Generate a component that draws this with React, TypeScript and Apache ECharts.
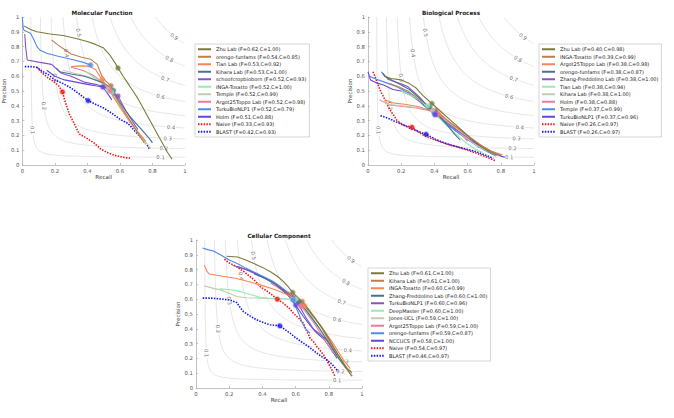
import React, { useEffect, useRef } from "react";
import * as echarts from "echarts";

type Pt = [number, number];

const FONT = "DejaVu Sans";

// Rank colours (1st..10th method), then the two baselines
const RANK_COLORS = [
  "#7a7a3c", "#c27c48", "#fb8550", "#3d7396", "#8953c4",
  "#8fefad", "#c8c8b4", "#f0789a", "#4f88ee", "#6246df",
];
const NAIVE_COLOR = "#f01818";
const BLAST_COLOR = "#1a1af0";

// F-measure contour levels and where their labels sit
const isoLevels = [0.1, 0.2, 0.3, 0.4, 0.5, 0.6, 0.7, 0.8, 0.9];
const isoRightLabelRecall: Pt[] = [
  [0.1, 0.85], [0.2, 0.87], [0.3, 0.894], [0.4, 0.914],
  [0.6, 0.85], [0.7, 0.878], [0.8, 0.904], [0.9, 0.934],
];
const isoUpperLabelPrecision: Pt[] = [
  [0.1, 0.236], [0.2, 0.4], [0.3, 0.59], [0.4, 0.755], [0.5, 0.894],
];

const panelTitles = ["Molecular Function", "Biological Process", "Cellular Component"];

// ---------------- Molecular Function ----------------
const mfMethods = [
  "Zhu Lab", "orengo-funfams", "Tian Lab", "Kihara Lab", "schoofcropbioborn",
  "INGA-Tosatto", "Temple", "Argot25Toppo Lab", "TurkuBioNLP1", "Holm", "Naive", "BLAST",
];
const mfF = [0.62, 0.54, 0.53, 0.53, 0.52, 0.52, 0.52, 0.52, 0.52, 0.51, 0.33, 0.42];
const mfC = [1.0, 0.85, 0.92, 1.0, 0.93, 1.0, 0.99, 0.98, 0.79, 0.88, 0.93, 0.93];
const mfBest: Pt[] = [
  [0.588, 0.655], [0.545, 0.535], [0.49, 0.577], [0.56, 0.503], [0.588, 0.466],
  [0.55, 0.493], [0.53, 0.51], [0.54, 0.5], [0.42, 0.676], [0.495, 0.527],
  [0.247, 0.494], [0.404, 0.435],
];
const mfCurves: Pt[][] = [
  [[0.01, 0.94], [0.05, 0.915], [0.09, 0.9], [0.17, 0.885], [0.25, 0.875], [0.33, 0.855], [0.4, 0.835], [0.45, 0.815], [0.5, 0.79], [0.54, 0.74], [0.57, 0.69], [0.588, 0.655], [0.62, 0.6], [0.65, 0.55], [0.68, 0.5], [0.71, 0.45], [0.74, 0.39], [0.77, 0.33], [0.8, 0.27], [0.83, 0.21], [0.86, 0.15], [0.89, 0.09], [0.92, 0.04]],
  [[0.18, 0.845], [0.22, 0.81], [0.26, 0.78], [0.3, 0.75], [0.36, 0.73], [0.42, 0.715], [0.46, 0.68], [0.49, 0.6], [0.51, 0.57], [0.545, 0.535], [0.57, 0.47], [0.6, 0.41], [0.64, 0.34], [0.68, 0.27], [0.72, 0.2], [0.75, 0.15]],
  [[0.3, 0.665], [0.36, 0.67], [0.41, 0.668], [0.45, 0.645], [0.49, 0.577], [0.52, 0.53], [0.56, 0.46], [0.6, 0.39], [0.64, 0.33], [0.68, 0.27], [0.72, 0.21], [0.76, 0.16]],
  [[0.21, 0.655], [0.23, 0.63], [0.3, 0.615], [0.38, 0.6], [0.45, 0.575], [0.5, 0.555], [0.53, 0.53], [0.56, 0.503], [0.59, 0.44], [0.62, 0.39], [0.66, 0.33], [0.7, 0.28], [0.74, 0.23], [0.78, 0.18], [0.8, 0.15]],
  [[0.015, 0.885], [0.02, 0.8], [0.03, 0.71], [0.1, 0.695], [0.18, 0.68], [0.24, 0.62], [0.3, 0.6], [0.38, 0.56], [0.45, 0.545], [0.5, 0.53], [0.54, 0.5], [0.56, 0.475], [0.588, 0.466], [0.61, 0.42], [0.64, 0.36], [0.68, 0.29], [0.71, 0.24]],
  [[0.39, 0.63], [0.43, 0.6], [0.47, 0.57], [0.5, 0.54], [0.55, 0.493], [0.58, 0.44], [0.62, 0.37], [0.66, 0.3], [0.7, 0.23], [0.74, 0.17], [0.76, 0.14]],
  [[0.25, 0.64], [0.32, 0.62], [0.4, 0.6], [0.46, 0.57], [0.5, 0.54], [0.53, 0.51], [0.57, 0.45], [0.61, 0.38], [0.65, 0.31], [0.69, 0.25], [0.73, 0.19], [0.77, 0.14], [0.79, 0.11]],
  [[0.3, 0.66], [0.37, 0.64], [0.43, 0.61], [0.48, 0.57], [0.54, 0.5], [0.58, 0.43], [0.62, 0.36], [0.66, 0.29], [0.7, 0.23], [0.74, 0.17]],
  [[0.0, 1.0], [0.005, 0.93], [0.01, 0.91], [0.05, 0.89], [0.07, 0.85], [0.09, 0.8], [0.11, 0.775], [0.15, 0.755], [0.22, 0.735], [0.3, 0.715], [0.37, 0.695], [0.42, 0.676]],
  [[0.15, 0.64], [0.2, 0.6], [0.26, 0.575], [0.33, 0.56], [0.4, 0.545], [0.45, 0.535], [0.495, 0.527], [0.52, 0.49], [0.55, 0.44]],
  [[0.09, 0.66], [0.12, 0.625], [0.15, 0.595], [0.19, 0.565], [0.22, 0.54], [0.247, 0.494], [0.26, 0.44], [0.275, 0.39], [0.29, 0.34], [0.31, 0.3], [0.33, 0.255], [0.35, 0.21], [0.39, 0.185], [0.44, 0.15], [0.48, 0.11], [0.52, 0.085], [0.57, 0.065], [0.62, 0.052], [0.67, 0.045]],
  [[0.015, 0.665], [0.05, 0.665], [0.09, 0.66], [0.12, 0.635], [0.16, 0.61], [0.2, 0.575], [0.25, 0.55], [0.3, 0.52], [0.35, 0.48], [0.404, 0.435], [0.45, 0.41], [0.5, 0.385], [0.55, 0.35], [0.6, 0.31], [0.65, 0.28], [0.7, 0.22], [0.74, 0.17], [0.77, 0.13], [0.78, 0.11]],
];

// ---------------- Biological Process ----------------
const bpMethods = [
  "Zhu Lab", "INGA-Tosatto", "Argot25Toppo Lab", "orengo-funfams", "Zhang-Freddolino Lab",
  "Tian Lab", "Kihara Lab", "Holm", "Temple", "TurkuBioNLP1", "Naive", "BLAST",
];
const bpF = [0.4, 0.39, 0.38, 0.38, 0.38, 0.38, 0.38, 0.38, 0.37, 0.37, 0.26, 0.26];
const bpC = [0.98, 0.99, 0.98, 0.87, 1.0, 0.94, 1.0, 0.88, 0.99, 0.96, 0.97, 0.97];
const bpBest: Pt[] = [
  [0.385, 0.415], [0.41, 0.37], [0.425, 0.345], [0.37, 0.39], [0.4, 0.36],
  [0.36, 0.4], [0.39, 0.37], [0.42, 0.345], [0.4, 0.345], [0.405, 0.34],
  [0.265, 0.255], [0.35, 0.207],
];
const bpCurves: Pt[][] = [
  [[0.1, 0.6], [0.14, 0.585], [0.2, 0.575], [0.25, 0.55], [0.29, 0.52], [0.33, 0.47], [0.385, 0.415], [0.44, 0.36], [0.5, 0.3], [0.56, 0.24], [0.62, 0.18], [0.68, 0.125], [0.74, 0.085], [0.78, 0.065]],
  [[0.13, 0.55], [0.18, 0.53], [0.24, 0.5], [0.3, 0.45], [0.36, 0.4], [0.41, 0.37], [0.47, 0.31], [0.53, 0.255], [0.6, 0.195], [0.67, 0.14], [0.74, 0.095], [0.81, 0.067]],
  [[0.1, 0.44], [0.15, 0.42], [0.22, 0.41], [0.3, 0.395], [0.37, 0.37], [0.425, 0.345], [0.48, 0.3], [0.54, 0.25], [0.6, 0.2], [0.66, 0.15], [0.72, 0.1], [0.78, 0.07]],
  [[0.08, 0.63], [0.1, 0.6], [0.15, 0.57], [0.2, 0.54], [0.25, 0.51], [0.3, 0.46], [0.37, 0.39], [0.42, 0.34], [0.47, 0.28], [0.52, 0.21], [0.555, 0.17]],
  [[0.09, 0.62], [0.12, 0.58], [0.18, 0.555], [0.24, 0.53], [0.3, 0.47], [0.35, 0.41], [0.4, 0.36], [0.46, 0.3], [0.53, 0.24], [0.6, 0.185], [0.67, 0.135], [0.74, 0.095], [0.8, 0.06]],
  [[0.2, 0.5], [0.26, 0.47], [0.31, 0.44], [0.36, 0.4], [0.41, 0.34], [0.47, 0.27], [0.53, 0.21], [0.59, 0.15], [0.64, 0.11], [0.69, 0.085]],
  [[0.07, 0.44], [0.12, 0.41], [0.2, 0.4], [0.28, 0.39], [0.34, 0.38], [0.39, 0.37], [0.45, 0.32], [0.51, 0.26], [0.57, 0.2], [0.63, 0.15], [0.69, 0.11], [0.75, 0.08]],
  [[0.07, 0.44], [0.13, 0.405], [0.21, 0.395], [0.29, 0.385], [0.36, 0.37], [0.42, 0.345], [0.47, 0.3], [0.52, 0.25], [0.57, 0.2], [0.6, 0.16]],
  [[0.01, 0.6], [0.05, 0.58], [0.1, 0.56], [0.17, 0.53], [0.24, 0.49], [0.31, 0.43], [0.36, 0.38], [0.4, 0.345], [0.46, 0.29], [0.53, 0.23], [0.6, 0.17], [0.67, 0.12], [0.72, 0.09], [0.77, 0.06]],
  [[0.0, 0.63], [0.015, 0.575], [0.05, 0.555], [0.094, 0.54], [0.15, 0.51], [0.2, 0.5], [0.26, 0.47], [0.3, 0.44], [0.35, 0.39], [0.405, 0.34], [0.46, 0.29], [0.53, 0.23], [0.6, 0.175], [0.67, 0.13], [0.74, 0.09], [0.8, 0.06], [0.825, 0.052]],
  [[0.03, 0.63], [0.045, 0.59], [0.058, 0.55], [0.075, 0.5], [0.094, 0.46], [0.115, 0.41], [0.134, 0.37], [0.155, 0.335], [0.175, 0.3], [0.2, 0.28], [0.224, 0.265], [0.265, 0.255], [0.3, 0.225], [0.334, 0.202], [0.38, 0.18], [0.434, 0.157], [0.48, 0.14], [0.534, 0.124], [0.6, 0.1], [0.654, 0.079], [0.71, 0.055], [0.765, 0.03]],
  [[0.075, 0.333], [0.1, 0.325], [0.134, 0.31], [0.17, 0.29], [0.214, 0.27], [0.25, 0.25], [0.294, 0.232], [0.35, 0.207], [0.414, 0.17], [0.47, 0.145], [0.534, 0.124], [0.6, 0.105], [0.654, 0.09], [0.7, 0.07], [0.755, 0.045]],
];

// ---------------- Cellular Component ----------------
const ccMethods = [
  "Zhu Lab", "Kihara Lab", "INGA-Tosatto", "Zhang-Freddolino Lab", "TurkuBioNLP1",
  "DeepMaster", "Jones-UCL", "Argot25Toppo Lab", "orengo-funfams", "NCCUCS", "Naive", "BLAST",
];
const ccF = [0.61, 0.61, 0.6, 0.6, 0.6, 0.6, 0.59, 0.59, 0.59, 0.58, 0.54, 0.46];
const ccC = [1.0, 1.0, 0.99, 1.0, 0.96, 1.0, 1.0, 1.0, 0.87, 1.0, 0.97, 0.97];
const ccBest: Pt[] = [
  [0.582, 0.645], [0.64, 0.585], [0.655, 0.555], [0.62, 0.58], [0.59, 0.61],
  [0.6, 0.6], [0.58, 0.6], [0.63, 0.555], [0.585, 0.595], [0.6, 0.56],
  [0.49, 0.6], [0.505, 0.42],
];
const ccCurves: Pt[][] = [
  [[0.185, 0.89], [0.25, 0.885], [0.3, 0.865], [0.345, 0.843], [0.4, 0.815], [0.446, 0.787], [0.49, 0.755], [0.526, 0.72], [0.555, 0.685], [0.582, 0.645], [0.615, 0.61], [0.647, 0.573], [0.68, 0.525], [0.707, 0.483], [0.74, 0.435], [0.767, 0.393], [0.8, 0.335], [0.827, 0.281], [0.86, 0.22], [0.888, 0.169], [0.915, 0.12], [0.938, 0.079]],
  [[0.55, 0.65], [0.6, 0.61], [0.64, 0.585], [0.68, 0.53], [0.72, 0.47], [0.76, 0.4], [0.8, 0.32], [0.84, 0.25], [0.88, 0.18], [0.92, 0.12], [0.94, 0.1]],
  [[0.05, 0.83], [0.065, 0.79], [0.08, 0.77], [0.16, 0.755], [0.245, 0.74], [0.33, 0.715], [0.406, 0.69], [0.46, 0.67], [0.506, 0.652], [0.56, 0.625], [0.61, 0.59], [0.655, 0.555], [0.7, 0.49], [0.747, 0.43], [0.79, 0.36], [0.827, 0.3], [0.86, 0.24], [0.888, 0.19], [0.93, 0.13]],
  [[0.35, 0.77], [0.42, 0.74], [0.48, 0.7], [0.53, 0.65], [0.58, 0.6], [0.62, 0.58], [0.66, 0.53], [0.7, 0.47], [0.74, 0.41], [0.78, 0.34], [0.82, 0.27], [0.86, 0.2], [0.9, 0.14], [0.935, 0.11]],
  [[0.22, 0.83], [0.3, 0.8], [0.38, 0.76], [0.45, 0.72], [0.52, 0.67], [0.56, 0.63], [0.59, 0.61], [0.62, 0.56], [0.66, 0.48], [0.707, 0.4], [0.75, 0.36], [0.787, 0.326], [0.82, 0.27], [0.847, 0.225]],
  [[0.14, 0.67], [0.2, 0.665], [0.245, 0.658], [0.3, 0.64], [0.386, 0.613], [0.45, 0.605], [0.526, 0.602], [0.6, 0.6], [0.64, 0.57], [0.68, 0.51], [0.72, 0.44], [0.76, 0.37], [0.8, 0.3], [0.84, 0.23], [0.88, 0.17], [0.92, 0.12]],
  [[0.05, 0.69], [0.1, 0.675], [0.145, 0.663], [0.2, 0.64], [0.245, 0.618], [0.3, 0.61], [0.386, 0.607], [0.48, 0.603], [0.58, 0.6], [0.63, 0.56], [0.67, 0.51], [0.71, 0.45], [0.75, 0.39], [0.79, 0.32], [0.83, 0.25], [0.87, 0.18], [0.91, 0.12], [0.945, 0.08]],
  [[0.45, 0.71], [0.52, 0.66], [0.57, 0.62], [0.6, 0.59], [0.63, 0.555], [0.67, 0.5], [0.71, 0.44], [0.75, 0.37], [0.79, 0.3], [0.83, 0.23]],
  [[0.04, 0.946], [0.07, 0.935], [0.104, 0.926], [0.13, 0.91], [0.165, 0.888], [0.2, 0.865], [0.245, 0.843], [0.3, 0.81], [0.365, 0.775], [0.42, 0.745], [0.466, 0.719], [0.51, 0.685], [0.546, 0.652], [0.585, 0.595], [0.6, 0.55], [0.62, 0.5], [0.64, 0.44], [0.66, 0.4], [0.687, 0.37]],
  [[0.25, 0.82], [0.33, 0.79], [0.4, 0.75], [0.47, 0.71], [0.52, 0.67], [0.56, 0.62], [0.6, 0.56], [0.647, 0.483], [0.69, 0.42], [0.727, 0.371], [0.77, 0.33], [0.81, 0.27], [0.85, 0.2]],
  [[0.171, 0.87], [0.2, 0.845], [0.245, 0.82], [0.29, 0.785], [0.325, 0.753], [0.36, 0.72], [0.386, 0.685], [0.42, 0.66], [0.446, 0.64], [0.49, 0.6], [0.526, 0.573], [0.56, 0.54], [0.586, 0.506], [0.62, 0.47], [0.647, 0.438], [0.665, 0.39], [0.687, 0.337], [0.71, 0.31], [0.727, 0.281], [0.75, 0.25], [0.767, 0.225], [0.787, 0.19], [0.807, 0.146], [0.82, 0.12], [0.837, 0.079]],
  [[0.04, 0.607], [0.09, 0.607], [0.145, 0.602], [0.2, 0.595], [0.245, 0.578], [0.265, 0.545], [0.285, 0.517], [0.32, 0.49], [0.365, 0.461], [0.41, 0.44], [0.446, 0.427], [0.505, 0.42], [0.566, 0.371], [0.6, 0.34], [0.647, 0.303], [0.69, 0.27], [0.727, 0.236], [0.76, 0.21], [0.787, 0.191], [0.82, 0.16], [0.847, 0.124], [0.857, 0.112]],
];

// Layout of the three axes boxes and their legends (pixels)
const GRIDS = [
  { left: 19, top: 17, width: 166, height: 148 },
  { left: 368, top: 17, width: 166, height: 148 },
  { left: 196, top: 240, width: 166, height: 148 },
];
const LEGEND_POS = [
  { left: 195, top: 44 },
  { left: 539, top: 44 },
  { left: 368, top: 268 },
];

function hexToRgba(hex: string, a: number) {
  const n = parseInt(hex.slice(1), 16);
  return `rgba(${(n >> 16) & 255},${(n >> 8) & 255},${n & 255},${a})`;
}

function colorFor(i: number) {
  if (i < 10) return RANK_COLORS[i];
  return i === 10 ? NAIVE_COLOR : BLAST_COLOR;
}

// precision on the iso-F contour for a given recall
function isoPrecision(f: number, r: number) {
  return (f * r) / (2 * r - f);
}
function isoRecall(f: number, p: number) {
  return (f * p) / (2 * p - f);
}
function isoAngle(f: number, r: number, g: { width: number; height: number }) {
  const d = -(f * f) / Math.pow(2 * r - f, 2);
  return (Math.atan(d * (g.height / g.width)) * 180) / Math.PI;
}

function isoCurve(f: number): Pt[] {
  const r0 = f / (2 - f);
  const pts: Pt[] = [];
  const n = 120;
  for (let k = 0; k <= n; k++) {
    const t = k / n;
    const r = r0 + (1 - r0) * t * t;
    pts.push([r, Math.min(1, isoPrecision(f, r))]);
  }
  return pts;
}

const panels = [
  { methods: mfMethods, f: mfF, c: mfC, curves: mfCurves, best: mfBest },
  { methods: bpMethods, f: bpF, c: bpC, curves: bpCurves, best: bpBest },
  { methods: ccMethods, f: ccF, c: ccC, curves: ccCurves, best: ccBest },
];

function buildOption() {
  const grid: any[] = [];
  const xAxis: any[] = [];
  const yAxis: any[] = [];
  const series: any[] = [];
  const legend: any[] = [];
  const graphic: any[] = [];

  panels.forEach((pnl, gi) => {
    const g = GRIDS[gi];
    grid.push({ ...g, containLabel: false });
    const axisCommon = {
      gridIndex: gi,
      min: 0,
      max: 1,
      nameLocation: "middle",
      axisLine: { show: true, lineStyle: { color: "#b4b4b4", width: 0.8 } },
      axisTick: { show: true, inside: true, length: 2, lineStyle: { color: "#b4b4b4", width: 0.8 } },
      splitLine: { show: false },
      axisLabel: { fontFamily: FONT, fontSize: 5.3, color: "#555", margin: 3 },
      nameTextStyle: { fontFamily: FONT, fontSize: 5.6, color: "#444" },
    };
    xAxis.push({ ...axisCommon, type: "value", interval: 0.2, name: "Recall", nameGap: 8.5 });
    yAxis.push({ ...axisCommon, type: "value", interval: 0.1, name: "Precision", nameGap: 12 });

    // iso-F contours
    isoLevels.forEach((f) => {
      series.push({
        type: "line",
        xAxisIndex: gi,
        yAxisIndex: gi,
        data: isoCurve(f),
        symbol: "none",
        silent: true,
        z: 1,
        lineStyle: { color: "#e0e0e0", width: 0.8 },
      });
    });
    const labelData: any[] = [];
    isoRightLabelRecall.forEach(([f, r]) => {
      labelData.push({
        value: [r, isoPrecision(f, r)],
        label: { formatter: f.toFixed(1), rotate: isoAngle(f, r, g) },
      });
    });
    isoUpperLabelPrecision.forEach(([f, p]) => {
      const r = isoRecall(f, p);
      labelData.push({
        value: [r, p],
        label: { formatter: f.toFixed(1), rotate: isoAngle(f, r, g) },
      });
    });
    series.push({
      type: "scatter",
      xAxisIndex: gi,
      yAxisIndex: gi,
      data: labelData,
      symbolSize: 1,
      silent: true,
      z: 2,
      itemStyle: { color: "rgba(0,0,0,0)" },
      label: {
        show: true,
        position: "inside",
        fontFamily: FONT,
        fontSize: 5.3,
        color: "#444",
        backgroundColor: "#fff",
        padding: [0, 1],
      },
    });

    // method curves
    const names: string[] = [];
    pnl.methods.forEach((m, i) => {
      const name = `${m} (F=${pnl.f[i].toFixed(2)},C=${pnl.c[i].toFixed(2)})`;
      names.push(name);
      const baseline = i >= 10;
      series.push({
        type: "line",
        name,
        xAxisIndex: gi,
        yAxisIndex: gi,
        data: pnl.curves[i],
        symbol: "none",
        z: baseline ? 3 : 4 + (10 - i) * 0.01,
        color: colorFor(i),
        lineStyle: baseline
          ? { color: colorFor(i), width: 1.6, type: [1.5, 1.3] }
          : { color: colorFor(i), width: 1.1 },
      });
    });

    // best-F points
    series.push({
      type: "scatter",
      xAxisIndex: gi,
      yAxisIndex: gi,
      symbolSize: 4.5,
      z: 6,
      silent: true,
      data: pnl.best.map((pt, i) => ({
        value: pt,
        itemStyle: {
          color: colorFor(i),
          borderColor: hexToRgba(colorFor(i), 0.35),
          borderWidth: 2,
        },
      })),
    });

    legend.push({
      ...LEGEND_POS[gi],
      orient: "vertical",
      data: names,
      selectedMode: false,
      backgroundColor: "#fff",
      borderColor: "#c4c4c4",
      borderWidth: 0.7,
      borderRadius: 0,
      padding: [1.5, 3, 1.5, 2],
      itemGap: 0,
      itemWidth: 13,
      itemHeight: 5,
      itemStyle: { opacity: 0 },
      textStyle: { fontFamily: FONT, fontSize: 5, color: "#222", lineHeight: 7.5 },
    });

    graphic.push({
      type: "text",
      x: g.left + g.width / 2,
      y: g.top - 4,
      style: {
        text: panelTitles[gi],
        font: `bold 5.7px "${FONT}"`,
        fill: "#222",
        textAlign: "center",
        textVerticalAlign: "middle",
      },
    });
  });

  return {
    animation: false,
    backgroundColor: "#fff",
    textStyle: { fontFamily: FONT },
    grid,
    xAxis,
    yAxis,
    legend,
    graphic,
    series,
  };
}

export default function App() {
  const ref = useRef<HTMLDivElement>(null);
  useEffect(() => {
    if (!ref.current) return;
    const chart = echarts.init(ref.current, undefined, { renderer: "svg" });
    chart.setOption(buildOption() as any);
    return () => chart.dispose();
  }, []);
  return (
    <div
      ref={ref}
      style={{ position: "fixed", left: 0, top: 0, width: 674, height: 418, background: "#fff" }}
    />
  );
}
